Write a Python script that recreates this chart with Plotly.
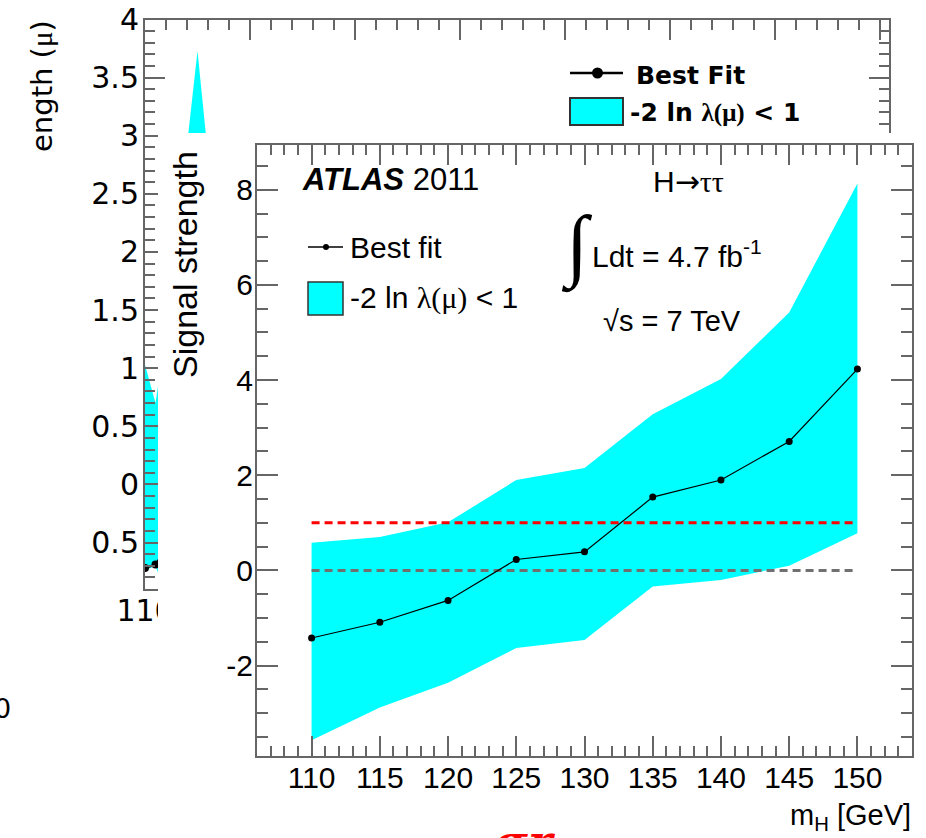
import plotly.graph_objects as go

W, H = 926, 838


def px(x):
    return x / W


def py(y):
    return 1 - y / H


# ---- rear panel: signal strength scan (partly hidden) ----
bg_mass = [110, 110.5, 111, 111.5, 112, 112.5, 113, 113.5]
bg_fit = [-0.72, -0.69, -0.55, -0.35, -0.20, 0.10, -0.05, -0.15]
bg_up = [1.03, 0.70, 1.30, 2.10, 2.90, 3.73, 2.83, 2.30]
bg_dn = [-0.74, -0.70, -0.95, -1.10, -1.20, -0.90, -1.00, -1.10]
bg_ytick_vals = [-0.5, 0, 0.5, 1, 1.5, 2, 2.5, 3, 3.5, 4]
bg_ytick_text = ["0.5", "0", "0.5", "1", "1.5", "2", "2.5", "3", "3.5", "4"]

# ---- front panel: ATLAS 2011 H->tautau ----
mass = [110, 115, 120, 125, 130, 135, 140, 145, 150]
best_fit = [-1.42, -1.09, -0.63, 0.23, 0.39, 1.54, 1.90, 2.71, 4.23]
band_up = [0.58, 0.70, 1.01, 1.90, 2.15, 3.28, 4.02, 5.42, 8.13]
band_dn = [-3.57, -2.88, -2.36, -1.63, -1.46, -0.34, -0.20, 0.10, 0.78]
ref_mass = [110, 150]
mu_sm = [1, 1]
mu_zero = [0, 0]
y_tick_vals = [-2, 0, 2, 4, 6, 8]
y_tick_text = ["-2", "0", "2", "4", "6", "8"]
x_tick_vals = [110, 115, 120, 125, 130, 135, 140, 145, 150]

CYAN = "#00ffff"
AX = "#666666"
SANS = "Liberation Sans, Arial, sans-serif"
WIDE = "DejaVu Sans, Verdana, sans-serif"

fig = go.Figure()

# rear panel traces
fig.add_trace(go.Scatter(
    x=bg_mass + bg_mass[::-1], y=bg_up + bg_dn[::-1],
    fill="toself", fillcolor=CYAN, mode="lines", line=dict(width=0),
    xaxis="x", yaxis="y", hoverinfo="skip", showlegend=False))
fig.add_trace(go.Scatter(
    x=bg_mass, y=bg_fit, mode="lines+markers",
    line=dict(color="black", width=2), marker=dict(color="black", size=8),
    xaxis="x", yaxis="y", showlegend=False))

# white sheet of the front panel, covering the rear one
fig.add_trace(go.Scatter(
    x=[0, 1, 1, 0], y=[0, 0, 1, 1], fill="toself", fillcolor="white",
    mode="none", xaxis="x2", yaxis="y2", hoverinfo="skip", showlegend=False))

# front panel traces
fig.add_trace(go.Scatter(
    x=mass + mass[::-1], y=band_up + band_dn[::-1],
    fill="toself", fillcolor=CYAN, mode="lines", line=dict(width=0),
    xaxis="x3", yaxis="y3", hoverinfo="skip", showlegend=False))
fig.add_trace(go.Scatter(
    x=ref_mass, y=mu_sm, mode="lines",
    line=dict(color="#ff0000", width=3, dash="8px,5px"),
    xaxis="x3", yaxis="y3", showlegend=False))
fig.add_trace(go.Scatter(
    x=ref_mass, y=mu_zero, mode="lines",
    line=dict(color="#707070", width=3, dash="8px,5px"),
    xaxis="x3", yaxis="y3", showlegend=False))
fig.add_trace(go.Scatter(
    x=mass, y=best_fit, mode="lines+markers",
    line=dict(color="black", width=1.2), marker=dict(color="black", size=7),
    xaxis="x3", yaxis="y3", showlegend=False))


def frame_axis(**kw):
    base = dict(showgrid=False, zeroline=False, showline=True, linecolor=AX,
                linewidth=2, mirror="ticks", ticks="inside", tickcolor=AX,
                tickwidth=1.5, automargin=False)
    base.update(kw)
    return base


layout = dict(
    template="none",
    width=W, height=H, margin=dict(l=0, r=0, t=0, b=0, pad=0, autoexpand=False),
    paper_bgcolor="white", plot_bgcolor="rgba(0,0,0,0)", showlegend=False,
    xaxis=frame_axis(domain=[px(145), px(889)], anchor="y", range=[110, 145.43],
                     tickmode="linear", tick0=110, dtick=5, ticklen=20,
                     ticklabelstandoff=-6,
                     minor=dict(dtick=1, tick0=110, ticks="inside", ticklen=10,
                                tickcolor=AX, tickwidth=1.5),
                     tickfont=dict(family=WIDE, size=30, color="black")),
    yaxis=frame_axis(domain=[py(589), py(19.5)], anchor="x", range=[-0.9, 4.0],
                     tickmode="array", tickvals=bg_ytick_vals, ticktext=bg_ytick_text,
                     ticklen=20, ticklabelstandoff=-2,
                     minor=dict(dtick=0.1, tick0=0, ticks="inside", ticklen=10,
                                tickcolor=AX, tickwidth=1.5),
                     tickfont=dict(family=WIDE, size=30, color="black")),
    xaxis2=dict(domain=[px(158), 1], anchor="y2", range=[0, 1], visible=False,
                fixedrange=True, automargin=False),
    yaxis2=dict(domain=[0, py(133)], anchor="x2", range=[0, 1], visible=False,
                fixedrange=True, automargin=False),
    xaxis3=frame_axis(domain=[px(257), px(912)], anchor="y3", range=[106, 154],
                      tickmode="array", tickvals=x_tick_vals, ticklen=20,
                      ticklabelstandoff=-6,
                      minor=dict(dtick=1, tick0=110, ticks="inside", ticklen=10,
                                 tickcolor=AX, tickwidth=1.5),
                      tickfont=dict(family=SANS, size=30, color="black")),
    yaxis3=frame_axis(domain=[py(756), py(144.5)], anchor="x3", range=[-3.9, 8.95],
                      tickmode="array", tickvals=y_tick_vals, ticktext=y_tick_text,
                      ticklen=21, ticklabelstandoff=-4,
                      minor=dict(dtick=0.5, tick0=0, ticks="inside", ticklen=11,
                                 tickcolor=AX, tickwidth=1.5),
                      tickfont=dict(family=SANS, size=30, color="black")),
)
fig.update_layout(**layout)

shapes = []
annotations = []


def note(text, x, y, size, family=SANS, xanchor="left", yanchor="middle",
         angle=0, color="black"):
    annotations.append(dict(text=text, x=px(x), y=py(y), xref="paper", yref="paper",
                            xanchor=xanchor, yanchor=yanchor, showarrow=False,
                            textangle=angle, font=dict(family=family, size=size,
                                                       color=color)))


# rear panel legend
shapes.append(dict(type="line", xref="paper", yref="paper", x0=px(570), x1=px(623),
                   y0=py(73), y1=py(73), line=dict(color="black", width=2.5)))
shapes.append(dict(type="circle", xref="paper", yref="paper", x0=px(592), x1=px(603),
                   y0=py(78.5), y1=py(67.5), fillcolor="black",
                   line=dict(color="black", width=0)))
shapes.append(dict(type="rect", xref="paper", yref="paper", x0=px(570), x1=px(623),
                   y0=py(125), y1=py(98), fillcolor=CYAN,
                   line=dict(color="#333333", width=2)))
note("<b>Best Fit</b>", 634, 75, 25, family=WIDE)
note("<b>-2 ln <span style='font-family:Liberation Serif'>λ(μ)</span> &lt; 1</b>",
     628, 112, 25, family=WIDE)
note("ength (<span style='font-family:Liberation Serif'>μ</span>)", 42, 86, 29,
     family=WIDE, xanchor="center", angle=-90)
note("0", 2, 708, 27, family=WIDE, xanchor="center")
note("<b><i>σr</i></b>", 525, 842, 46, family="DejaVu Serif", xanchor="center",
     color="#ff0000")

# front panel legend
shapes.append(dict(type="line", xref="paper", yref="paper", x0=px(308), x1=px(343),
                   y0=py(247), y1=py(247), line=dict(color="black", width=1.5)))
shapes.append(dict(type="circle", xref="paper", yref="paper", x0=px(323), x1=px(329),
                   y0=py(250), y1=py(244), fillcolor="black",
                   line=dict(color="black", width=0)))
shapes.append(dict(type="rect", xref="paper", yref="paper", x0=px(308), x1=px(343),
                   y0=py(315), y1=py(282), fillcolor=CYAN,
                   line=dict(color="#333333", width=1.5)))
note("Best fit", 348, 248, 30)
note("-2 ln <span style='font-family:Liberation Serif'>λ(μ)</span> &lt; 1", 348, 298, 30)

# front panel labels
note("<b><i>ATLAS</i></b> 2011", 300, 179, 31)
note("H<span style='font-family:DejaVu Sans'>→</span>"
     "<span style='font-family:Liberation Serif'>ττ</span>", 688, 182, 30,
     xanchor="center")
note("∫", 577, 246, 80, family="Liberation Serif", xanchor="center")
note("Ldt = 4.7 fb<sup>-1</sup>", 590, 254, 30)
note("√s = 7 TeV", 601, 321, 29)
note("Signal strength", 185, 265, 34, xanchor="center", angle=-90)
note("m<sub>H</sub> [GeV]", 913, 817, 29, xanchor="right")

fig.update_layout(shapes=shapes, annotations=annotations)
fig.write_html("out.html")
